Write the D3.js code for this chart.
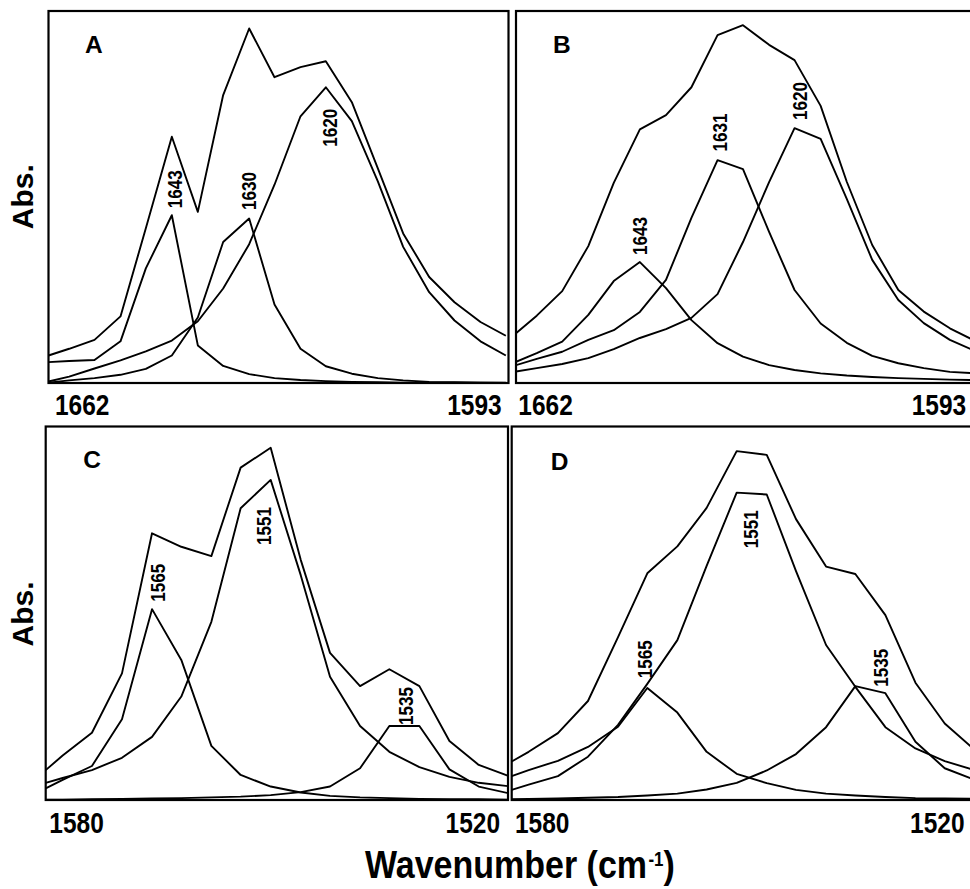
<!DOCTYPE html>
<html>
<head>
<meta charset="utf-8">
<script src="https://cdn.jsdelivr.net/npm/d3@7"></script>
<style>
  body { margin: 0; background: #fff; }
  svg { display: block; }
  text { font-family: "Liberation Sans", Arial, Helvetica, sans-serif; font-weight: bold; fill: #000; }
</style>
</head>
<body>
<svg id="chart" width="970" height="889"></svg>
<script>
// ---------- DATA ----------
// wavenumber grids (cm-1)
const wnAmideI  = [1662, 1658.9, 1655.1, 1651.2, 1647.4, 1643.5, 1639.6, 1635.8, 1631.9, 1628.1,
                   1624.2, 1620.4, 1616.5, 1612.6, 1608.8, 1604.9, 1601.1, 1597.2, 1593.4];
const wnAmideII = [1580, 1577.8, 1574.0, 1570.1, 1566.2, 1562.4, 1558.5, 1554.7, 1550.8,
                   1546.9, 1543.1, 1539.2, 1535.4, 1531.5, 1527.6, 1523.8, 1519.9];

const ticksAmideI  = ["1662", "1593"];
const ticksAmideII = ["1580", "1520"];
const panelLetters = ["A", "B", "C", "D"];

// Panel A (absorbance, arbitrary units)
const specA     = [0.074, 0.092, 0.116, 0.179, 0.416, 0.662, 0.460, 0.774, 0.953, 0.822,
                   0.849, 0.865, 0.755, 0.577, 0.402, 0.285, 0.217, 0.164, 0.127];
const bandA1643 = [0.056, 0.059, 0.062, 0.112, 0.308, 0.451, 0.101, 0.046, 0.024, 0.013,
                   0.008, 0.005, 0.003, 0.002, 0.001, 0.001, 0.001, 0.001, 0.000];
const bandA1630 = [0.001, 0.007, 0.013, 0.022, 0.038, 0.074, 0.176, 0.379, 0.442, 0.211,
                   0.092, 0.045, 0.025, 0.013, 0.007, 0.003, 0.002, 0.001, 0.001];
const bandA1620 = [0.004, 0.017, 0.039, 0.061, 0.085, 0.114, 0.166, 0.254, 0.373, 0.533,
                   0.717, 0.795, 0.704, 0.542, 0.366, 0.244, 0.168, 0.112, 0.074];

// Panel B
const specB     = [0.134, 0.181, 0.247, 0.368, 0.538, 0.682, 0.720, 0.795, 0.935, 0.962,
                   0.909, 0.868, 0.745, 0.541, 0.371, 0.250, 0.192, 0.147, 0.113];
const bandB1643 = [0.057, 0.080, 0.111, 0.183, 0.274, 0.325, 0.255, 0.169, 0.107, 0.071,
                   0.048, 0.035, 0.026, 0.020, 0.016, 0.013, 0.011, 0.009, 0.008];
const bandB1631 = [0.048, 0.065, 0.084, 0.116, 0.142, 0.191, 0.277, 0.444, 0.599, 0.575,
                   0.406, 0.250, 0.160, 0.108, 0.073, 0.053, 0.040, 0.030, 0.026];
const bandB1620 = [0.031, 0.040, 0.051, 0.067, 0.091, 0.121, 0.145, 0.175, 0.239, 0.379,
                   0.540, 0.685, 0.656, 0.495, 0.331, 0.223, 0.161, 0.116, 0.086];

// Panel C
const specC     = [0.080, 0.119, 0.180, 0.339, 0.714, 0.678, 0.653, 0.890, 0.943, 0.643,
                   0.394, 0.305, 0.350, 0.305, 0.158, 0.094, 0.064];
const bandC1565 = [0.031, 0.054, 0.091, 0.216, 0.511, 0.375, 0.145, 0.067, 0.036, 0.020,
                   0.011, 0.007, 0.005, 0.003, 0.002, 0.002, 0.001];
const bandC1551 = [0.046, 0.059, 0.080, 0.113, 0.169, 0.277, 0.477, 0.781, 0.857, 0.602,
                   0.330, 0.198, 0.129, 0.088, 0.062, 0.046, 0.037];
const bandC1535 = [0.001, 0.001, 0.002, 0.003, 0.004, 0.005, 0.007, 0.009, 0.013, 0.021,
                   0.036, 0.085, 0.198, 0.198, 0.082, 0.036, 0.018];

// Panel D
const specD     = [0.103, 0.129, 0.179, 0.265, 0.436, 0.607, 0.679, 0.782, 0.934, 0.924,
                   0.752, 0.625, 0.605, 0.495, 0.314, 0.205, 0.134];
const bandD1565 = [0.064, 0.080, 0.105, 0.142, 0.196, 0.300, 0.234, 0.129, 0.070, 0.045,
                   0.027, 0.017, 0.012, 0.008, 0.005, 0.004, 0.003];
const bandD1551 = [0.027, 0.041, 0.064, 0.116, 0.201, 0.311, 0.428, 0.627, 0.823, 0.818,
                   0.613, 0.415, 0.303, 0.195, 0.138, 0.104, 0.080];
const bandD1535 = [0.002, 0.003, 0.004, 0.006, 0.008, 0.012, 0.017, 0.028, 0.046, 0.079,
                   0.123, 0.195, 0.305, 0.286, 0.156, 0.085, 0.054];

// peak annotations (anchor in data units: wavenumber, absorbance)
const peakLabelsA = [["1643", 1642.0, 0.470], ["1630", 1630.9, 0.465], ["1620", 1618.8, 0.635]];
const peakLabelsB = [["1643", 1642.5, 0.344], ["1631", 1630.5, 0.622], ["1620", 1618.6, 0.707]];
const peakLabelsC = [["1565", 1564.5, 0.531], ["1551", 1550.7, 0.683], ["1535", 1532.3, 0.201]];
const peakLabelsD = [["1565", 1561.8, 0.326], ["1551", 1548.0, 0.674], ["1535", 1531.2, 0.303]];

// ---------- LAYOUT ----------
const panels = [
  { box: [48.5, 508.5, 11, 383],   wn: wnAmideI,  domain: [1662, 1593], ticks: ticksAmideI,
    series: [specA, bandA1643, bandA1630, bandA1620], peaks: peakLabelsA,
    letterPos: [85, 52.7], tickInset: [6.5, 6.8], tickBase: 415 },
  { box: [516, 978, 11, 383],      wn: wnAmideI,  domain: [1662, 1593], ticks: ticksAmideI,
    series: [specB, bandB1643, bandB1631, bandB1620], peaks: peakLabelsB,
    letterPos: [553, 52.7], tickInset: [2.3, 11.8], tickBase: 415 },
  { box: [45.7, 508, 426.5, 800],  wn: wnAmideII, domain: [1580, 1520], ticks: ticksAmideII,
    series: [specC, bandC1565, bandC1551, bandC1535], peaks: peakLabelsC,
    letterPos: [83.3, 468.3], tickInset: [3.6, 8], tickBase: 832.7 },
  { box: [511.7, 974, 426.5, 800], wn: wnAmideII, domain: [1580, 1520], ticks: ticksAmideII,
    series: [specD, bandD1565, bandD1551, bandD1535], peaks: peakLabelsD,
    letterPos: [550.7, 470], tickInset: [3.3, 9.5], tickBase: 832.7 }
];

const svg = d3.select("#chart");
const defs = svg.append("defs");

panels.forEach((p, i) => {
  const [x0, x1, y0, y1] = p.box;
  const x = d3.scaleLinear().domain(p.domain).range([x0, x1]);
  const y = d3.scaleLinear().domain([0, 1]).range([y1, y0]);

  defs.append("clipPath").attr("id", "clip" + i)
    .append("rect").attr("x", x0).attr("y", y0).attr("width", x1 - x0).attr("height", y1 - y0);

  const g = svg.append("g");
  const line = d3.line().x(d => x(d[0])).y(d => y(d[1]));

  g.append("g").attr("clip-path", `url(#clip${i})`)
    .selectAll("path").data(p.series).join("path")
    .attr("d", s => line(s.map((v, k) => [p.wn[k], v])))
    .attr("fill", "none").attr("stroke", "#000")
    .attr("stroke-width", 1.9).attr("stroke-linejoin", "round");

  g.append("rect")
    .attr("x", x0).attr("y", y0).attr("width", x1 - x0).attr("height", y1 - y0)
    .attr("fill", "none").attr("stroke", "#000").attr("stroke-width", 2.2);

  // panel letter
  g.append("text").attr("x", p.letterPos[0]).attr("y", p.letterPos[1])
    .attr("font-size", 24.5).text(panelLetters[i]);

  // end tick labels (slightly tall, condensed digits as in the original)
  g.append("text")
    .attr("transform", `translate(${x(p.domain[0]) + p.tickInset[0]},${p.tickBase}) scale(1,1.22)`)
    .attr("font-size", 24.5).attr("text-anchor", "start").text(p.ticks[0]);
  g.append("text")
    .attr("transform", `translate(${x(p.domain[1]) - p.tickInset[1]},${p.tickBase}) scale(1,1.22)`)
    .attr("font-size", 24.5).attr("text-anchor", "end").text(p.ticks[1]);

  // peak labels (rotated)
  g.selectAll("text.peak").data(p.peaks).join("text").attr("class", "peak")
    .attr("transform", d => `translate(${x(d[1])},${y(d[2])}) rotate(-90) scale(0.9,1.1)`)
    .attr("font-size", 19).attr("text-anchor", "start")
    .text(d => d[0]);
});

// y-axis labels
[[33.3, 196.7], [33.3, 614]].forEach(([lx, ly]) => {
  svg.append("text")
    .attr("transform", `translate(${lx},${ly}) rotate(-90)`)
    .attr("text-anchor", "middle").attr("font-size", 30)
    .text("Abs.");
});

// x-axis title
svg.append("text")
  .attr("transform", "translate(365,878) scale(1,1.15)")
  .attr("font-size", 34).text("Wavenumber (cm");
svg.append("text")
  .attr("transform", "translate(648.4,865.5) scale(1,1.15)")
  .attr("font-size", 17).text("-1");
svg.append("text")
  .attr("transform", "translate(663.5,878) scale(1,1.15)")
  .attr("font-size", 34).text(")");
</script>
</body>
</html>
